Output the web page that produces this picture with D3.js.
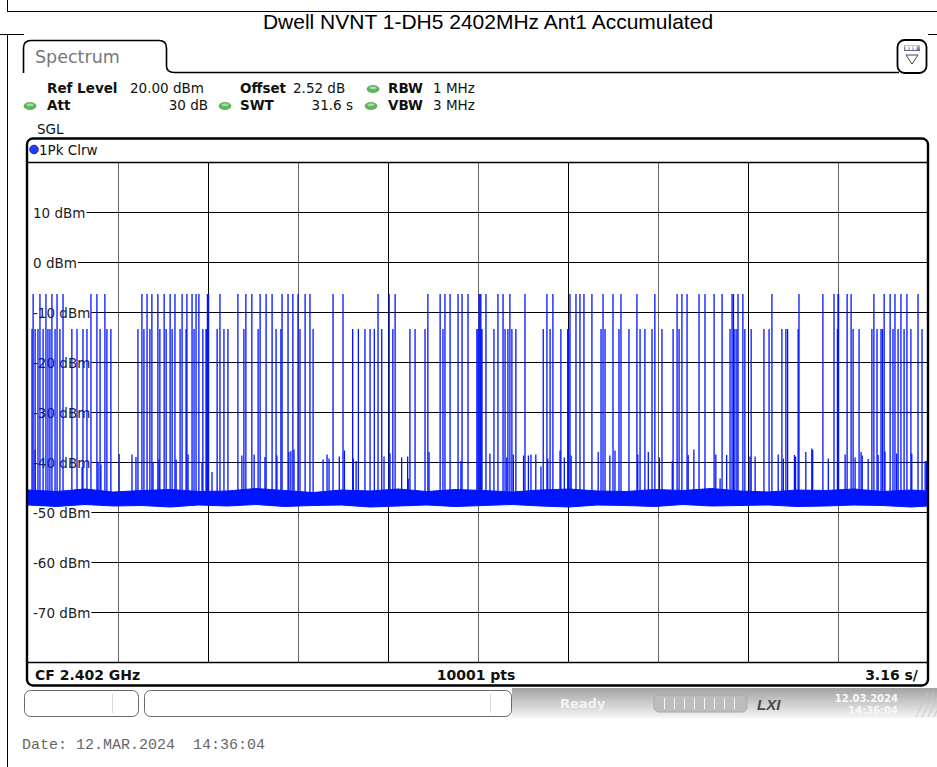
<!DOCTYPE html>
<html><head><meta charset="utf-8">
<script src="https://cdn.jsdelivr.net/npm/d3@7/dist/d3.min.js"></script>
<style>body{margin:0;background:#fff;}svg{display:block;}</style>
</head><body>
<script>
// ---------------- data ----------------
const titleText = "Dwell NVNT 1-DH5 2402MHz Ant1 Accumulated";
const sweepTime = 31.6;           // s (10 div x 3.16 s)
const levelRange = [-80, 20];     // dBm (ref level 20 dBm, 10 dB/div)
const yTickValues = [10, 0, -10, -20, -30, -40, -50, -60, -70];
const yTickLabels = ["10 dBm", "0 dBm", "-10 dBm", "-20 dBm", "-30 dBm", "-40 dBm", "-50 dBm", "-60 dBm", "-70 dBm"];
const xGridValues = [3.16, 6.32, 9.48, 12.64, 15.8, 18.96, 22.12, 25.28, 28.44];

const tallLevel = -6.4;
const tallTimes = [0.18,0.42,0.63,0.84,1.02,1.23,2.21,2.42,2.70,4.00,4.18,4.35,4.56,4.78,4.99,5.16,5.41,5.58,5.76,5.90,6.00,6.30,6.32,6.34,6.74,7.37,7.65,7.86,8.15,8.36,8.57,8.92,9.13,9.30,9.48,9.73,9.90,10.71,11.06,12.29,12.68,12.89,14.04,14.47,14.64,14.82,15.10,15.24,15.45,15.84,15.87,15.90,16.08,16.50,16.68,16.92,17.45,18.22,18.43,19.03,19.24,19.38,19.52,19.80,20.19,20.54,20.82,21.38,22.01,22.79,22.96,23.14,23.56,23.77,24.09,24.37,24.72,24.77,24.93,25.10,26.12,27.07,27.91,28.30,28.44,28.46,28.76,28.90,29.70,30.06,30.27,30.44,30.65,30.86,31.25];

const midLevel = -13.4;
const midTimes = [0.14,0.25,0.35,0.53,0.70,0.77,0.95,1.12,1.54,1.72,1.93,2.07,2.53,2.77,2.91,3.86,4.07,4.28,4.63,4.85,5.06,5.34,5.55,5.83,6.14,6.25,6.28,6.64,6.88,7.02,7.58,8.08,8.71,8.88,9.55,10.01,11.40,11.60,11.83,12.01,12.16,12.42,12.81,13.41,13.59,13.94,14.57,15.76,15.80,15.91,15.94,16.36,16.75,16.85,16.99,17.13,18.09,18.33,18.71,18.95,18.98,20.12,20.26,20.75,21.10,21.49,21.66,21.91,22.26,22.65,22.86,24.65,24.82,24.89,25.17,25.39,25.84,26.02,26.47,26.61,26.67,27.04,28.42,28.97,29.18,29.63,29.81,29.95,30.00,30.37,30.55,30.76,31.00,31.39];

const smallTimes = [0.25,1.90,2.46,2.56,3.20,3.65,3.79,4.39,4.60,5.20,5.62,6.11,6.46,7.51,7.94,8.32,8.74,9.16,9.23,9.34,10.36,10.50,10.57,10.93,11.11,11.42,11.52,12.50,12.71,13.12,13.33,13.35,14.08,15.20,16.22,16.81,17.04,17.40,17.57,17.66,17.83,18.01,18.25,18.68,18.83,19.07,20.02,20.43,20.61,21.41,21.78,22.17,22.62,23.18,23.38,24.15,24.30,24.53,25.35,25.53,26.34,26.52,26.91,26.95,27.31,27.52,27.55,28.10,28.69,29.04,29.25,29.29,29.50,29.85,30.09,30.50,31.03,31.50,31.55];
const smallLevels = [-37.5,-41,-40,-40.5,-38.4,-38.5,-39,-40,-39.5,-39.5,-38.5,-40,-42,-38.7,-38.5,-39,-38.7,-38,-37.8,-37.5,-39.5,-38.5,-39.3,-38.9,-37.7,-39.3,-39.8,-38.9,-38.3,-39.1,-38.9,-43.3,-38,-39.8,-38.3,-39.1,-38.5,-38.7,-38.7,-38.5,-38.5,-40.9,-39.3,-37.7,-39.1,-38.7,-38,-38.7,-37.7,-38.5,-38,-39.1,-39.8,-38.6,-37.5,-38.5,-43.3,-38.6,-38.9,-38.9,-38.5,-39.3,-38.6,-38.9,-38,-37.3,-37.6,-39.3,-38.5,-39.1,-38,-38.7,-39.4,-38.6,-37.9,-38.3,-38.3,-39.8,-39.8];

const noiseTimes = [0,1,2,3,4,5,6,7,8,9,10,11,12,13,14,15,16,17,18,19,20,21,22,23,24,25,26,27,28,29,30,31,31.6];
const noiseTop = [-45.6,-45.9,-45.4,-46.0,-45.7,-45.5,-45.9,-45.8,-45.3,-45.7,-46.1,-45.6,-45.8,-45.4,-45.9,-45.5,-45.7,-46.0,-45.6,-45.4,-45.8,-45.9,-45.5,-45.7,-45.3,-45.8,-46.0,-45.6,-45.7,-45.4,-45.9,-45.6,-45.8];
const noiseBottom = [-48.6,-48.9,-48.5,-48.8,-48.7,-49.0,-48.6,-48.8,-48.5,-48.9,-48.7,-48.6,-49.0,-48.8,-48.6,-48.9,-48.7,-48.5,-48.8,-49.0,-48.6,-48.7,-48.9,-48.5,-48.8,-48.7,-48.6,-48.9,-48.8,-48.6,-48.7,-49.0,-48.8];
const floorLevel = -47;

// ---------------- drawing ----------------
const W = 937, H = 767;
const svg = d3.select("body").append("svg").attr("width", W).attr("height", H);
const defs = svg.append("defs");
const traceColor = "#0014ff";
const uiFont = "DejaVu Sans, Verdana, sans-serif";

// page/table lines
svg.append("line").attr("x1",7.5).attr("x2",7.5).attr("y1",0).attr("y2",11).attr("stroke","#000");
svg.append("line").attr("x1",7).attr("x2",W).attr("y1",11.5).attr("y2",11.5).attr("stroke","#000");
svg.append("line").attr("x1",0).attr("x2",24).attr("y1",34.5).attr("y2",34.5).attr("stroke","#000");
svg.append("line").attr("x1",928).attr("x2",W).attr("y1",34.5).attr("y2",34.5).attr("stroke","#000");
svg.append("line").attr("x1",7.5).attr("x2",7.5).attr("y1",34).attr("y2",H).attr("stroke","#000");

svg.append("text").attr("x",488).attr("y",29).attr("text-anchor","middle")
  .attr("font-family","Liberation Sans, Arial, sans-serif").attr("font-size",21).attr("fill","#000").text(titleText);

// Spectrum tab
svg.append("path").attr("d","M23.5,73 L23.5,48 Q23.5,40.5 31,40.5 L159,40.5 Q166.5,40.5 166.5,48 L166.5,66 Q166.5,72.5 174,72.5 L899,72.5")
  .attr("fill","none").attr("stroke","#000").attr("stroke-width",1.6);
svg.append("text").attr("x",35).attr("y",63).attr("font-family",uiFont).attr("font-size",17.5).attr("fill","#777").text("Spectrum");

// right button
svg.append("rect").attr("x",897.5).attr("y",40).attr("width",29).attr("height",33).attr("rx",7)
  .attr("fill","#fff").attr("stroke","#000").attr("stroke-width",1.8);
const gb = defs.append("linearGradient").attr("id","btnbar").attr("x1",0).attr("x2",0).attr("y1",0).attr("y2",1);
gb.append("stop").attr("offset","0%").attr("stop-color","#c8cce0");
gb.append("stop").attr("offset","100%").attr("stop-color","#5a607a");
svg.append("rect").attr("x",904).attr("y",45).attr("width",16).attr("height",6).attr("fill","url(#btnbar)");
[907,911,915].forEach(xx=>svg.append("rect").attr("x",xx-1.5).attr("y",46).attr("width",3).attr("height",4).attr("fill","#fff"));
svg.append("path").attr("d","M906,55 L918,55 L912,64 Z").attr("fill","#fff").attr("stroke","#444").attr("stroke-width",1);

// info rows
const info = svg.append("g").attr("font-family",uiFont).attr("font-size",13.5).attr("fill","#111");
function txt(x,y,s,bold,anchor){info.append("text").attr("x",x).attr("y",y).attr("font-weight",bold?"bold":"normal")
  .attr("text-anchor",anchor||"start").text(s);}
function dot(cx,cy){
  info.append("ellipse").attr("cx",cx).attr("cy",cy).attr("rx",6).attr("ry",3.6).attr("fill","#5cb85c").attr("stroke","#3f8f3f").attr("stroke-width",0.6);
  info.append("ellipse").attr("cx",cx).attr("cy",cy-1.2).attr("rx",3.5).attr("ry",1.3).attr("fill","#a6e0a6");
}
txt(47,93,"Ref Level",true); txt(130,93,"20.00 dBm");
txt(240,93,"Offset",true); txt(293,93,"2.52 dB");
dot(373,89); txt(388,93,"RBW",true); txt(433,93,"1 MHz");
dot(30,106); txt(47,110,"Att",true); txt(208,110,"30 dB",false,"end");
dot(225,106); txt(240,110,"SWT",true); txt(353,110,"31.6 s",false,"end");
dot(371,106); txt(388,110,"VBW",true); txt(433,110,"3 MHz");
txt(37,134,"SGL");

// plot frame geometry
const L = 28, R = 928, T = 162, B = 662;
const x = d3.scaleLinear().domain([0, sweepTime]).range([L, R]);
const y = d3.scaleLinear().domain(levelRange).range([B, T]);

svg.append("rect").attr("x",27).attr("y",138.5).attr("width",901).attr("height",547).attr("rx",6).attr("fill","#fff");

// trace label row
svg.append("circle").attr("cx",34).attr("cy",149.5).attr("r",4.3).attr("fill","#1e3cff").attr("stroke","#001070").attr("stroke-width",0.8);
svg.append("text").attr("x",39).attr("y",154.5).attr("font-family",uiFont).attr("font-size",13.5).attr("fill","#111").text("1Pk Clrw");

// grid
const grid = svg.append("g");
grid.selectAll("line.v").data(xGridValues).join("line")
  .attr("x1",d=>Math.round(x(d))+0.5).attr("x2",d=>Math.round(x(d))+0.5).attr("y1",T).attr("y2",B)
  .attr("stroke",(d,i)=> i%2===1 ? "#000" : "#666").attr("stroke-width",1);
const labels = svg.append("g").attr("font-family",uiFont).attr("font-size",13.5).attr("fill","#222");
yTickValues.forEach((v,i)=>{
  const yy = Math.round(y(v))+0.5;
  const t = labels.append("text").attr("x",33).attr("y",yy+5).text(yTickLabels[i]);
  const w = t.node().getComputedTextLength();
  grid.append("line").attr("x1",33+w+1).attr("x2",R).attr("y1",yy).attr("y2",yy).attr("stroke","#000").attr("stroke-width",1);
});

// trace
defs.append("clipPath").attr("id","plotclip").append("rect").attr("x",L).attr("y",T).attr("width",R-L).attr("height",B-T);
const tr = svg.append("g").attr("clip-path","url(#plotclip)");
const area = d3.area().x((d,i)=>x(noiseTimes[i])).y0((d,i)=>y(noiseBottom[i])).y1((d,i)=>y(noiseTop[i]));
tr.append("path").datum(noiseTop).attr("d",area).attr("fill",traceColor).attr("stroke",traceColor).attr("stroke-width",1);
const spikes = [
  ...smallTimes.map((t,i)=>({t, v: smallLevels[i]})),
  ...midTimes.map(t=>({t, v: midLevel})),
  ...tallTimes.map(t=>({t, v: tallLevel}))
];
tr.selectAll("line.spike").data(spikes).join("line")
  .attr("x1",d=>x(d.t)).attr("x2",d=>x(d.t)).attr("y1",y(floorLevel)).attr("y2",d=>y(d.v))
  .attr("stroke",traceColor).attr("stroke-width",1.3);

// frame borders
svg.append("rect").attr("x",27).attr("y",138.5).attr("width",901).attr("height",547).attr("rx",6)
  .attr("fill","none").attr("stroke","#000").attr("stroke-width",2.4);
svg.append("line").attr("x1",26).attr("x2",929).attr("y1",T+0.5).attr("y2",T+0.5).attr("stroke","#000").attr("stroke-width",1.4);
svg.append("line").attr("x1",26).attr("x2",929).attr("y1",B+0.5).attr("y2",B+0.5).attr("stroke","#000").attr("stroke-width",1.6);

// bottom info
const bot = svg.append("g").attr("font-family",uiFont).attr("font-size",14).attr("font-weight","bold").attr("fill","#111");
bot.append("text").attr("x",35).attr("y",680).text("CF 2.402 GHz");
bot.append("text").attr("x",476).attr("y",680).attr("text-anchor","middle").text("10001 pts");
bot.append("text").attr("x",918).attr("y",680).attr("text-anchor","end").text("3.16 s/");

// status bar
const gs = defs.append("linearGradient").attr("id","statusg").attr("x1",0).attr("x2",0).attr("y1",0).attr("y2",1);
gs.append("stop").attr("offset","0%").attr("stop-color","#a2a2a2");
gs.append("stop").attr("offset","100%").attr("stop-color","#f6f6f6");
svg.append("rect").attr("x",512).attr("y",688).attr("width",W-512).attr("height",30).attr("fill","url(#statusg)");
[[24,139,112],[144,512,490]].forEach(([a,b,dv])=>{
  svg.append("rect").attr("x",a+0.5).attr("y",690.5).attr("width",b-a-1).attr("height",26).attr("rx",6)
    .attr("fill","#fff").attr("stroke","#6a6a6a").attr("stroke-width",1);
  svg.append("line").attr("x1",dv+0.5).attr("x2",dv+0.5).attr("y1",694).attr("y2",713).attr("stroke","#d8d8d8");
});
svg.append("text").attr("x",560).attr("y",708).attr("font-family",uiFont).attr("font-size",13).attr("font-weight","bold")
  .attr("fill","#f2f2f2").text("Ready");
svg.append("rect").attr("x",654).attr("y",695).attr("width",93).attr("height",17).attr("rx",5).attr("fill","#bdbdbd").attr("stroke","#a8a8a8");
[664,674,684,694,704,714,724,734].forEach(xx=>svg.append("line").attr("x1",xx+0.5).attr("x2",xx+0.5).attr("y1",698).attr("y2",709).attr("stroke","#f4f4f4"));
svg.append("text").attr("x",757).attr("y",710).attr("font-family","Liberation Sans, Arial, sans-serif").attr("font-size",15)
  .attr("font-style","italic").attr("font-weight","bold").attr("fill","#4a4a4a").text("LXI");
svg.append("text").attr("x",898).attr("y",702).attr("text-anchor","end").attr("font-family",uiFont).attr("font-size",10)
  .attr("font-weight","bold").attr("fill","#f8f8f8").text("12.03.2024");
svg.append("text").attr("x",898).attr("y",714).attr("text-anchor","end").attr("font-family",uiFont).attr("font-size",10)
  .attr("font-weight","bold").attr("fill","#f8f8f8").text("14:36:04");
[916,922,928,934].forEach(xx=>svg.append("line").attr("x1",xx).attr("x2",xx+12).attr("y1",717).attr("y2",692).attr("stroke","#c8c8c8"));

// date footer
svg.append("text").attr("x",22).attr("y",749).attr("font-family","Liberation Mono, Courier New, monospace").attr("font-size",15)
  .attr("fill","#666").attr("xml:space","preserve").style("white-space","pre").text("Date: 12.MAR.2024  14:36:04");
</script>
</body></html>
